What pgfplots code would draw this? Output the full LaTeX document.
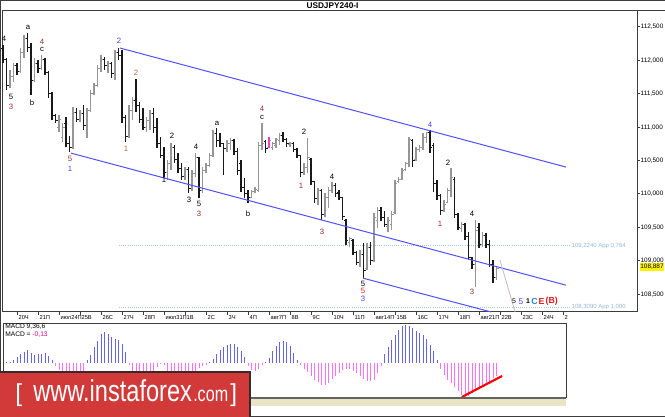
\documentclass[border=0pt]{standalone}
\usepackage{fontspec}
\setmainfont{Liberation Sans}
\usepackage{pgfplots}
\pgfplotsset{compat=1.18}
\usepackage{pgfplotstable}
\usepackage{graphicx}

\definecolor{upc}{RGB}{150,150,150}
\definecolor{dnc}{RGB}{25,25,25}
\definecolor{chblue}{RGB}{80,80,255}
\definecolor{fibblue}{RGB}{160,200,222}
\definecolor{fibtxt}{RGB}{150,185,210}
\definecolor{wred}{RGB}{165,45,40}
\definecolor{wbrown}{RGB}{170,110,60}
\definecolor{wblue}{RGB}{70,70,255}
\definecolor{cteal}{RGB}{40,140,210}
\definecolor{ered}{RGB}{220,30,30}
\definecolor{macdblue}{RGB}{100,100,240}
\definecolor{macdpink}{RGB}{255,110,255}
\definecolor{pinkbar}{RGB}{240,60,200}
\definecolor{banred}{RGB}{210,58,58}
\definecolor{bandark}{RGB}{60,40,40}
\definecolor{beige}{RGB}{232,228,196}
\definecolor{framec}{RGB}{60,60,60}
\definecolor{projc}{RGB}{205,185,185}

\pgfplotstableread{
i o h l c
0 112.18 112.23 111.96 112.02
1 112.02 112.04 111.56 111.62
2 111.62 111.86 111.59 111.76
3 111.76 111.96 111.68 111.92
4 111.92 111.96 111.78 111.84
5 111.84 112.19 111.81 112.12
6 112.12 112.38 112.04 112.33
7 112.33 112.41 112.13 112.20
8 112.20 112.26 111.48 111.70
9 111.70 112.04 111.68 111.95
10 111.95 112.01 111.81 111.88
11 111.88 112.08 111.86 112.02
12 112.02 112.03 111.78 111.82
13 111.82 111.84 111.44 111.50
14 111.50 111.52 111.11 111.18
15 111.18 111.20 111.06 111.10
16 111.00 111.18 110.93 111.12
17 110.85 111.06 110.78 111.00
18 111.05 111.15 110.70 110.76
19 110.76 110.87 110.63 110.70
20 110.70 111.30 110.68 111.22
21 111.22 111.29 111.08 111.12
22 111.12 111.26 111.08 111.20
23 111.20 111.33 110.96 111.02
24 111.02 111.29 110.84 111.25
25 111.25 111.56 111.23 111.50
26 111.50 111.66 111.48 111.62
27 111.62 111.93 111.60 111.88
28 111.88 112.08 111.83 112.02
29 112.02 112.05 111.86 111.92
30 111.92 111.99 111.81 111.96
31 111.96 111.98 111.74 111.80
32 111.80 112.16 111.71 112.12
33 112.12 112.19 112.01 112.08
34 112.08 112.16 111.06 111.15
35 111.15 111.18 110.78 110.86
36 110.86 111.33 110.84 111.25
37 111.25 111.45 111.11 111.40
38 111.40 111.72 111.23 111.32
39 111.32 111.38 111.06 111.12
40 111.12 111.29 110.96 111.00
41 111.00 111.15 110.93 111.10
42 111.10 111.26 110.96 111.20
43 111.20 111.29 110.91 111.00
44 111.00 111.14 110.69 110.75
45 110.75 110.86 110.54 110.58
46 110.58 110.71 110.25 110.32
47 110.32 110.51 110.21 110.45
48 110.45 110.77 110.36 110.70
49 110.70 110.74 110.47 110.52
50 110.52 110.62 110.32 110.38
51 110.38 110.47 110.21 110.26
52 110.26 110.41 110.21 110.36
53 110.36 110.41 110.02 110.08
54 110.08 110.36 110.05 110.30
55 110.30 110.61 110.25 110.55
56 110.55 110.56 109.94 110.05
57 110.05 110.41 110.02 110.35
58 110.35 110.47 110.32 110.42
59 110.42 110.62 110.41 110.58
60 110.58 110.96 110.56 110.90
61 110.90 110.99 110.70 110.80
62 110.80 110.91 110.70 110.75
63 110.75 110.77 110.28 110.68
64 110.68 110.81 110.63 110.76
65 110.76 110.84 110.66 110.80
66 110.80 110.82 110.59 110.64
67 110.64 110.69 110.28 110.35
68 110.45 110.51 110.03 110.10
69 110.10 110.24 109.94 110.00
70 110.00 110.06 109.87 109.95
71 109.95 110.06 109.94 110.04
72 110.04 110.10 110.02 110.06
73 110.05 110.78 110.03 110.72
74 110.72 111.06 110.66 110.75
75 110.78 110.81 110.62 110.68
76 110.70 110.85 110.69 110.80
77 110.70 110.78 110.66 110.75
78 110.72 110.84 110.69 110.82
79 110.80 110.91 110.73 110.88
80 110.88 110.93 110.78 110.82
81 110.82 110.84 110.71 110.76
82 110.74 110.78 110.71 110.76
83 110.76 110.78 110.63 110.66
84 110.66 110.69 110.54 110.58
85 110.58 110.59 110.25 110.32
86 110.32 110.47 110.28 110.40
87 110.40 110.84 110.32 110.55
88 110.52 110.54 110.14 110.18
89 110.18 110.20 109.87 109.93
90 109.93 110.09 109.84 110.05
91 110.05 110.07 109.61 109.70
92 109.70 110.02 109.66 109.95
93 109.95 110.11 109.79 110.05
94 110.05 110.18 110.02 110.12
95 110.12 110.17 109.96 110.00
96 110.02 110.06 109.91 109.95
97 109.95 109.96 109.61 109.66
98 109.61 109.63 109.24 109.30
99 109.28 109.36 109.21 109.34
100 109.30 109.32 109.09 109.12
101 109.12 109.14 108.94 108.98
102 108.98 109.16 108.91 109.10
103 109.10 109.27 108.74 108.85
104 108.88 109.27 108.86 109.20
105 109.20 109.28 108.94 109.00
106 109.00 109.72 108.98 109.65
107 109.60 109.80 109.49 109.75
108 109.75 109.81 109.59 109.65
109 109.65 109.74 109.51 109.55
110 109.52 109.66 109.43 109.60
111 109.55 109.74 109.46 109.70
112 109.72 110.21 109.70 110.15
113 110.18 110.25 110.17 110.22
114 110.22 110.39 110.21 110.35
115 110.36 110.48 110.34 110.45
116 110.45 110.86 110.40 110.82
117 110.80 110.82 110.41 110.50
118 110.52 110.71 110.50 110.66
119 110.66 110.74 110.63 110.70
120 110.70 110.91 110.66 110.85
121 110.84 110.93 110.76 110.92
122 110.92 110.96 110.61 110.70
123 110.72 110.77 110.03 110.15
124 110.15 110.21 109.91 109.98
125 109.98 110.00 109.69 109.75
126 109.75 109.91 109.73 109.85
127 109.88 110.09 109.87 110.05
128 110.05 110.39 109.95 110.25
129 110.22 110.25 109.64 109.70
130 109.70 109.72 109.46 109.50
131 109.48 109.58 109.43 109.55
132 109.55 109.57 109.31 109.36
133 109.36 109.43 109.01 109.05
134 109.05 109.06 108.88 108.95
135 108.95 109.61 108.61 109.45
136 109.50 109.57 109.19 109.25
137 109.25 109.43 109.21 109.38
138 109.38 109.42 109.19 109.24
139 109.24 109.31 108.91 108.95
140 108.95 109.01 108.67 108.75
141 108.75 108.91 108.71 108.887
}\ohlc

\pgfplotstableread{
i m
0 0.00
1 0.005
2 0.01
3 0.03
4 0.06
5 0.09
6 0.11
7 0.13
8 0.10
9 0.08
10 0.09
11 0.09
12 0.10
13 0.07
14 0.03
15 -0.03
16 -0.07
17 -0.10
18 -0.13
19 -0.15
20 -0.15
21 -0.14
22 -0.12
23 -0.09
24 0.03
25 0.08
26 0.16
27 0.22
28 0.29
29 0.31
30 0.29
31 0.26
32 0.24
33 0.23
34 0.19
35 0.11
36 -0.02
37 -0.08
38 -0.10
39 -0.12
40 -0.12
41 -0.12
42 -0.11
43 -0.10
44 -0.04
45 -0.01
46 -0.02
47 -0.08
48 -0.12
49 -0.14
50 -0.15
51 -0.16
52 -0.16
53 -0.15
54 -0.13
55 -0.10
56 -0.05
57 -0.03
58 -0.02
59 0.01
60 0.04
61 0.09
62 0.13
63 0.16
64 0.18
65 0.19
66 0.19
67 0.16
68 0.12
69 0.06
70 -0.03
71 -0.07
72 -0.08
73 -0.06
74 -0.02
75 0.01
76 0.05
77 0.12
78 0.17
79 0.21
80 0.22
81 0.21
82 0.17
83 0.10
84 0.03
85 -0.02
86 -0.06
87 -0.09
88 -0.13
89 -0.17
90 -0.19
91 -0.22
92 -0.22
93 -0.20
94 -0.16
95 -0.13
96 -0.10
97 -0.07
98 -0.06
99 -0.06
100 -0.08
101 -0.10
102 -0.13
103 -0.16
104 -0.18
105 -0.18
106 -0.17
107 -0.10
108 -0.03
109 0.09
110 0.16
111 0.23
112 0.28
113 0.33
114 0.37
115 0.38
116 0.37
117 0.35
118 0.32
119 0.30
120 0.28
121 0.24
122 0.18
123 0.12
124 0.03
125 -0.06
126 -0.12
127 -0.17
128 -0.20
129 -0.24
130 -0.28
131 -0.32
132 -0.34
133 -0.33
134 -0.30
135 -0.26
136 -0.24
137 -0.23
138 -0.21
139 -0.18
140 -0.15
141 -0.13
}\macd

\newcommand{\wl}{\fontsize{5.8}{5.8}\selectfont}
\newcommand{\wv}[4]{\node[text=#3, font=\wl, inner sep=0pt] at (axis cs:#1,#2) {#4};}

\begin{document}
\begin{tikzpicture}[x=0.75pt,y=0.75pt]
\useasboundingbox (0,0) rectangle (665,417);
\clip (0,0) rectangle (665,417);
\fill[white] (0,0) rectangle (665,417);

\begin{axis}[
  at={(1.5pt,78.75pt)}, anchor=south west, scale only axis,
  width=476.25pt, height=225.75pt,
  xmin=-0.285714, xmax=181.142857,
  ymin=108.23353, ymax=112.73952,
  clip=false,
  axis line style={draw=framec, line width=0.75pt},
  tick style={draw=framec, line width=0.75pt},
  tick align=outside, major tick length=2.25pt,
  xtick pos=left, ytick pos=right, yticklabel pos=right,
  ytick={108.5,109,109.5,110,110.5,111,111.5,112,112.5},
  /pgf/number format/assume math mode=true,
  yticklabel style={font=\fontsize{4.8}{4.8}\selectfont, anchor=west, inner sep=0.3pt, /pgf/number format/.cd, fixed, fixed zerofill, precision=3, use comma},
  xtick={4,10,...,160},
  xticklabels={20Ч,21П,июл24П,25В,26С,27Ч,28П,июл31П,1В,2С,3Ч,4П,авг7П,8В,9С,10Ч,11П,авг14П,15В,16С,17Ч,18П,авг21П,22В,23С,24Ч,2},
  xticklabel style={font=\fontsize{4.3}{4.3}\selectfont, anchor=north west, inner sep=0.5pt, xshift=0.5pt},
]
% Fibonacci levels
\addplot[fibblue, line width=0.6pt, densely dotted] coordinates {(33.14,109.224) (162,109.224)};
\addplot[fibblue, line width=0.6pt, densely dotted] coordinates {(33.14,108.309) (162,108.309)};
% OHLC up bars (gray)
\addplot[upc, line width=0.8pt, quiver={u=0,v={(\thisrow{c}>\thisrow{o})*(\thisrow{h}-\thisrow{l})}}] table[x=i, y=l]{\ohlc};
\addplot[upc, line width=0.75pt, quiver={u={(\thisrow{c}>\thisrow{o})*0.5714},v=0}] table[x expr=\thisrow{i}-0.5714, y=o]{\ohlc};
\addplot[upc, line width=0.75pt, quiver={u={(\thisrow{c}>\thisrow{o})*0.5714},v=0}] table[x=i, y=c]{\ohlc};
% OHLC down bars (black)
\addplot[dnc, line width=0.8pt, quiver={u=0,v={(\thisrow{c}<\thisrow{o})*(\thisrow{h}-\thisrow{l})}}] table[x=i, y=l]{\ohlc};
\addplot[dnc, line width=0.75pt, quiver={u={(\thisrow{c}<\thisrow{o})*0.5714},v=0}] table[x expr=\thisrow{i}-0.5714, y=o]{\ohlc};
\addplot[dnc, line width=0.75pt, quiver={u={(\thisrow{c}<\thisrow{o})*0.5714},v=0}] table[x=i, y=c]{\ohlc};
\addplot[pinkbar, line width=0.8pt] coordinates {(76,110.69) (76,110.85)};
% channel
\addplot[chblue, line width=0.75pt] coordinates {(33.43,112.185) (160.86,110.403)};
\addplot[chblue, line width=0.75pt] coordinates {(19.43,110.612) (160.86,108.635)};
\addplot[chblue, line width=0.75pt] coordinates {(102.86,108.740) (139.5,108.2336)};
\addplot[projc, line width=0.6pt] coordinates {(142,109.01) (146.3,108.2336)};
% fib texts
\node[anchor=west, inner sep=0pt, text=fibtxt, font=\fontsize{4.5}{4.5}\selectfont] at (axis cs:162.4,109.224) {109,2240 App 0,764};
\node[anchor=west, inner sep=0pt, text=fibtxt, font=\fontsize{4.5}{4.5}\selectfont] at (axis cs:162.4,108.309) {108,3090 App 1,000};
% wave labels
\wv{0.29}{112.32}{black}{4}
\wv{7.14}{112.50}{black}{a}
\wv{11.14}{112.28}{wred}{4}
\wv{11.14}{112.17}{black}{c}
\wv{2.29}{111.45}{black}{5}
\wv{2.29}{111.30}{wred}{3}
\wv{8.29}{111.36}{black}{b}
\wv{33.14}{112.29}{wblue}{2}
\wv{38}{111.81}{wbrown}{2}
\wv{19.14}{110.52}{wred}{5}
\wv{19.14}{110.37}{wblue}{1}
\wv{35.14}{110.67}{wbrown}{1}
\wv{48.29}{110.87}{black}{2}
\wv{55.14}{110.70}{black}{4}
\wv{46}{110.21}{black}{1}
\wv{53.14}{109.91}{black}{3}
\wv{56}{109.85}{black}{5}
\wv{56}{109.71}{wred}{3}
\wv{61.14}{111.05}{black}{a}
\wv{74}{111.27}{wred}{4}
\wv{74}{111.15}{black}{c}
\wv{70}{109.71}{black}{b}
\wv{86}{110.93}{black}{2}
\wv{85.14}{110.12}{wred}{1}
\wv{94}{110.25}{black}{4}
\wv{91.14}{109.44}{wred}{3}
\wv{122}{111.03}{wblue}{4}
\wv{127.14}{110.46}{black}{2}
\wv{124.86}{109.56}{wred}{1}
\wv{134}{109.71}{black}{4}
\wv{134}{108.53}{wred}{3}
\wv{102.86}{108.65}{black}{5}
\wv{102.86}{108.545}{ered}{5}
\wv{102.86}{108.425}{wblue}{3}
\node[text=black, font=\fontsize{5.2}{5.2}\selectfont, inner sep=0pt] at (axis cs:146,108.395) {5};
\node[text=wblue, font=\fontsize{6.2}{6.2}\selectfont, inner sep=0pt] at (axis cs:148,108.395) {5};
\node[text=black, font=\bfseries\fontsize{5.2}{5.2}\selectfont, inner sep=0pt] at (axis cs:150,108.395) {1};
\node[text=cteal, font=\bfseries\fontsize{6.6}{6.6}\selectfont, inner sep=0pt] at (axis cs:151.9,108.395) {C};
\node[text=ered, font=\bfseries\fontsize{6.6}{6.6}\selectfont, inner sep=0pt] at (axis cs:153.9,108.395) {E};
\node[text=ered, font=\bfseries\fontsize{6.6}{6.6}\selectfont, inner sep=0pt] at (axis cs:156.8,108.395) {(B)};
\end{axis}

\begin{axis}[
  at={(2.25pt,14.25pt)}, anchor=south west, scale only axis,
  width=422.25pt, height=55.5pt,
  xmin=0, xmax=160.857, ymin=-0.35, ymax=0.39,
  axis line style={draw=framec, line width=0.75pt},
  ticks=none, clip=true,
]
\addplot[macdblue, line width=0.75pt, quiver={u=0,v={max(\thisrow{m},0)}}] table[x=i, y expr=0]{\macd};
\addplot[macdpink, line width=0.75pt, quiver={u=0,v={min(\thisrow{m},0)}}] table[x=i, y expr=0]{\macd};
\addplot[red, line width=1.6pt] coordinates {(131.1,-0.34) (142.6,-0.13)};
\end{axis}

% title and frame
\node[font=\bfseries\fontsize{6.2}{6.2}\selectfont, text=black, inner sep=0pt] at (332.5,411.5) {USDJPY240-I};
\draw[framec, line width=0.75pt] (637,406) -- (665,406);
\draw[framec, line width=0.75pt] (665,416.6) -- (0.4,416.6) -- (0.4,0.4) -- (665,0.4);
% MACD texts
\node[anchor=west, inner sep=0pt, font=\fontsize{5}{5}\selectfont] at (5,90) {MACD 9,36,6};
\node[anchor=west, inner sep=0pt, font=\fontsize{5}{5}\selectfont] at (5,82) {MACD = \textcolor{magenta}{-0,13}};
% strip under MACD
\fill[beige] (3,11) rectangle (566,19);
\draw[framec!80, line width=1.5pt] (3,19) -- (566,19);
% current price box
\node[fill=yellow, anchor=west, inner xsep=0.5pt, inner ysep=0.7pt, font=\fontsize{4.8}{4.8}\selectfont] at (639.5,150) {108,887};
% banner
\fill[banred] (0,0) rectangle (250,45);
\draw[bandark, line width=1.2pt] (0,45) -- (250,45) -- (250,0);
\node[anchor=base west, inner sep=0pt, text=white, font=\fontsize{18.4}{18.4}\selectfont] at (15,15) {[};
\node[anchor=base west, inner sep=0pt, text=white, font=\fontsize{22.7}{22.7}\selectfont] at (33,15) {\scalebox{0.78}[1]{www.instaforex}};
\node[anchor=base west, inner sep=0pt, text=white, font=\fontsize{15.9}{15.9}\selectfont] at (193,15) {\scalebox{0.76}[1]{.com}};
\node[anchor=base west, inner sep=0pt, text=white, font=\fontsize{18.4}{18.4}\selectfont] at (230,15) {]};
\end{tikzpicture}
\end{document}
